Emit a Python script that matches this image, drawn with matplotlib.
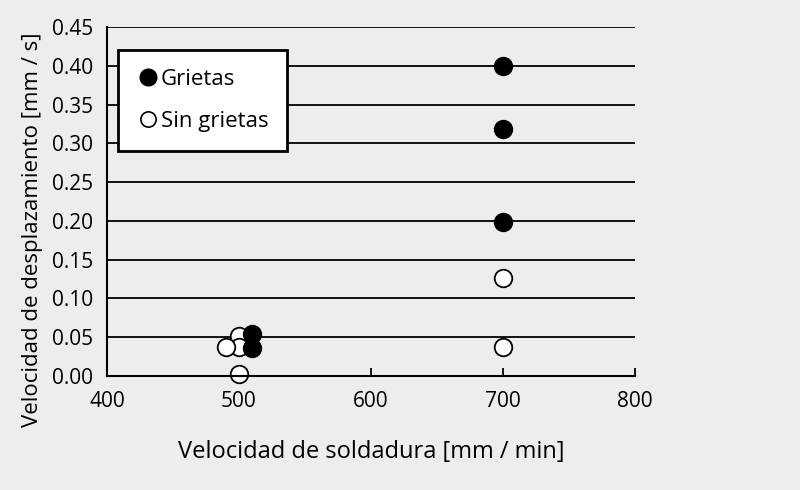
import matplotlib
matplotlib.use("Agg")
import matplotlib.pyplot as plt
from matplotlib.lines import Line2D

plt.rcParams['font.family'] = ['Open Sans', 'DejaVu Sans']

crack_x = [700, 700, 700, 510, 510]
crack_y = [0.400, 0.318, 0.198, 0.054, 0.036]
nocrack_x = [700, 700, 500, 500, 490, 500]
nocrack_y = [0.127, 0.037, 0.051, 0.037, 0.037, 0.002]

xticks = [400, 500, 600, 700, 800]
yticks = [0.00, 0.05, 0.10, 0.15, 0.20, 0.25, 0.30, 0.35, 0.40, 0.45]

bg = '#ECEDEE'
fig = plt.figure(figsize=(8, 4.9), dpi=100, facecolor=bg)
ax = fig.add_axes([107/800, 1-376/490, (635-107)/800, (376-27)/490], facecolor=bg)

for y in yticks[1:]:
    ax.axhline(y, color='black', lw=1.3, zorder=1)

ax.scatter(nocrack_x, nocrack_y, s=160, facecolor='white', edgecolor='black', linewidth=1.3, zorder=3, clip_on=False)
ax.scatter(crack_x, crack_y, s=160, facecolor='black', edgecolor='black', linewidth=1.3, zorder=3, clip_on=False)

ax.set_xlim(400, 800)
ax.set_ylim(0, 0.45)
ax.set_xticks(xticks)
ax.set_yticks(yticks)
ax.set_xticklabels([str(v) for v in xticks], fontsize=15)
ax.set_yticklabels([f"{v:.2f}" for v in yticks], fontsize=15)
ax.tick_params(axis='x', direction='in', length=6, width=1.3, pad=11)
ax.tick_params(axis='y', length=0, pad=10)
for ax_t in ax.get_xticklines():
    ax_t.set_zorder(5)
for s in ['top', 'right']:
    ax.spines[s].set_visible(False)
for s in ['left', 'bottom']:
    ax.spines[s].set_linewidth(1.5)
    ax.spines[s].set_zorder(4)

ax.set_xlabel('Velocidad de soldadura [mm / min]', fontsize=17, labelpad=20)
ax.set_ylabel('Velocidad de desplazamiento [mm / s]', fontsize=16)
ax.yaxis.set_label_coords(-0.122, 0.42)

handles = [
    Line2D([], [], marker='o', ls='none', markersize=12, markerfacecolor='black', markeredgecolor='black'),
    Line2D([], [], marker='o', ls='none', markersize=11, markerfacecolor='white', markeredgecolor='black', markeredgewidth=1.2),
]
leg = ax.legend(handles, ['Grietas', 'Sin grietas'], loc='upper left', bbox_to_anchor=(0.02, 0.935),
                fontsize=16, frameon=True, fancybox=False, framealpha=1, edgecolor='black',
                handletextpad=0.1, labelspacing=0.95, borderpad=0.85, handlelength=1.0, borderaxespad=0)
leg.get_frame().set_linewidth(2)
leg.set_zorder(6)

fig.savefig('out.png', dpi=100, facecolor=bg)
